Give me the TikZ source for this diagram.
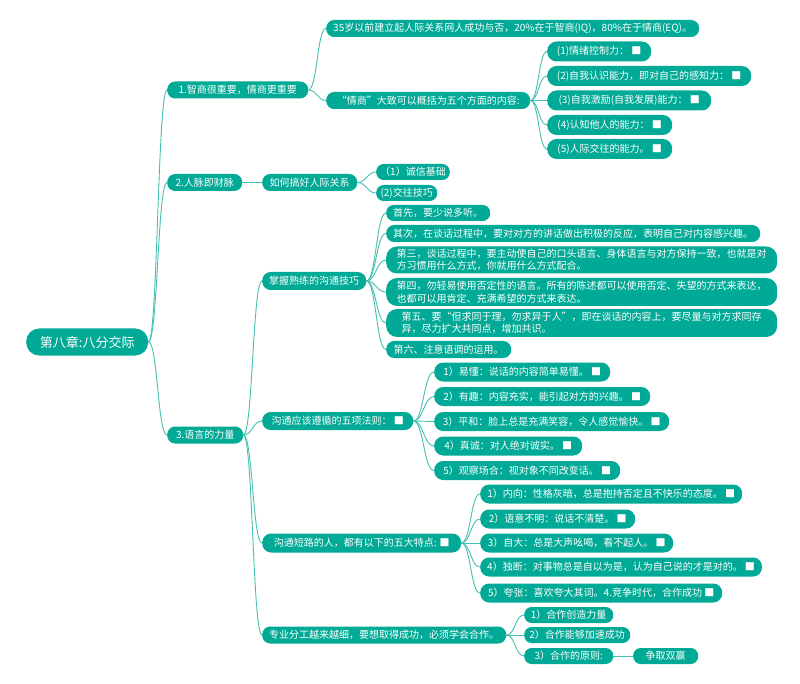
\documentclass[tikz,border=0pt]{standalone}
\usepackage{fontspec}
\setmainfont{Noto Sans CJK SC}
\usetikzlibrary{calc}
\definecolor{nodefill}{RGB}{0,170,150}
\definecolor{linec}{RGB}{70,192,176}
\tikzset{
  mbox/.style={fill=nodefill, text=white, inner xsep=7pt, inner ysep=0pt, anchor=west,
    font=\fontsize{10}{12.5}\selectfont, align=center},
  conn/.style={draw=linec, line width=0.9pt},
}
\newcommand\mlink[2]{\draw[conn] let \p1=(#1.east), \p2=(#2.west) in (\p1) .. controls ({(\x1+\x2)/2},\y1) and ({(\x1+\x2)/2},\y2) .. (\p2);}
\newcommand\slink[2]{\draw[conn] (#1.east) -- (#2.west);}
\begin{document}
\begin{tikzpicture}[x=1pt,y=-1pt]
\fill[white] (0,0) rectangle (800,684);
\useasboundingbox (0,0) rectangle (800,684);

% root
\node[mbox, minimum width=122pt, minimum height=27pt, rounded corners=13pt, font=\fontsize{13}{15}\selectfont] (root) at (26,342) {第八章:八分交际};

% level 1
\node[mbox, minimum width=141pt, minimum height=17pt, rounded corners=8pt] (L1a) at (167,90) {1.智商很重要，情商更重要};
\node[mbox, minimum width=75pt, minimum height=17pt, rounded corners=8pt] (L1b) at (167,182.5) {2.人脉即财脉};
\node[mbox, minimum width=76pt, minimum height=17pt, rounded corners=8pt] (L1c) at (167,435) {3.语言的力量};

% branch 1
\node[mbox, minimum width=371pt, minimum height=17pt, rounded corners=8pt] (A1) at (326,28.5) {35岁以前建立起人际关系网人成功与否，20\%在于智商(IQ)，80\%在于情商(EQ)。};
\node[mbox, minimum width=204pt, minimum height=17pt, rounded corners=8pt] (A2) at (326,100.5) {“情商”大致可以概括为五个方面的内容:};
\node[mbox, minimum width=104pt, minimum height=20pt, rounded corners=9.5pt] (A21) at (547,51.5) {(1)情绪控制力： ■};
\node[mbox, minimum width=204pt, minimum height=20pt, rounded corners=9.5pt] (A22) at (547,76) {(2)自我认识能力，即对自己的感知力： ■};
\node[mbox, minimum width=164pt, minimum height=20pt, rounded corners=9.5pt] (A23) at (547,100.5) {(3)自我激励(自我发展)能力： ■};
\node[mbox, minimum width=125pt, minimum height=20pt, rounded corners=9.5pt] (A24) at (547,125) {(4)认知他人的能力： ■};
\node[mbox, minimum width=125pt, minimum height=20pt, rounded corners=9.5pt] (A25) at (547,149) {(5)人际交往的能力。 ■};

% branch 2
\node[mbox, minimum width=95pt, minimum height=17pt, rounded corners=8pt] (B1) at (262,182.5) {如何搞好人际关系};
\node[mbox, minimum width=71pt, minimum height=16pt, rounded corners=7.5pt, inner xsep=4pt] (B11) at (376,172) {（1）诚信基础};
\node[mbox, minimum width=61pt, minimum height=16pt, rounded corners=7.5pt, inner xsep=4pt] (B12) at (376,193) {(2)交往技巧};

% branch 3
\node[mbox, minimum width=100pt, minimum height=18pt, rounded corners=8.5pt] (C1) at (262,281) {掌握熟练的沟通技巧};
\node[mbox, minimum width=104pt, minimum height=16pt, rounded corners=7.5pt] (C11) at (386,213) {首先，要少说多听。};
\node[mbox, minimum width=371pt, minimum height=17pt, rounded corners=8pt] (C12) at (386,233.5) {其次，在谈话过程中，要对对方的讲话做出积极的反应，表明自己对内容感兴趣。};
\node[mbox, minimum width=391pt, minimum height=27pt, rounded corners=11pt, align=left] (C13) at (386,260) {第三，谈话过程中，要主动使自己的口头语言、身体语言与对方保持一致，也就是对\\方习惯用什么方式，你就用什么方式配合。};
\node[mbox, minimum width=391pt, minimum height=28pt, rounded corners=11pt, align=left] (C14) at (386,292) {第四，勿轻易使用否定性的语言。所有的陈述都可以使用否定、失望的方式来表达，\\也都可以用肯定、充满希望的方式来表达。};
\node[mbox, minimum width=391pt, minimum height=28pt, rounded corners=11pt, align=left] (C15) at (386,323) {第五、要“但求同于理，勿求异于人”，即在谈话的内容上，要尽量与对方求同存\\异，尽力扩大共同点，增加共识。};
\node[mbox, minimum width=125pt, minimum height=17pt, rounded corners=8pt] (C16) at (386,349.5) {第六、注意语调的运用。};

\node[mbox, minimum width=151pt, minimum height=18pt, rounded corners=8.5pt] (C2) at (262,421) {沟通应该遵循的五项法则： ■};
\node[mbox, minimum width=176pt, minimum height=19pt, rounded corners=9pt] (C21) at (434,372) {1）易懂：说话的内容简单易懂。 ■};
\node[mbox, minimum width=216pt, minimum height=19pt, rounded corners=9pt] (C22) at (434,396.5) {2）有趣：内容充实，能引起对方的兴趣。 ■};
\node[mbox, minimum width=235pt, minimum height=19pt, rounded corners=9pt] (C23) at (434,421.5) {3）平和：脸上总是充满笑容，令人感觉愉快。 ■};
\node[mbox, minimum width=148pt, minimum height=19pt, rounded corners=9pt] (C24) at (434,446) {4）真诚：对人绝对诚实。 ■};
\node[mbox, minimum width=186pt, minimum height=19pt, rounded corners=9pt] (C25) at (434,470.5) {5）观察场合：视对象不同改变话。 ■};

\node[mbox, minimum width=199pt, minimum height=19pt, rounded corners=9pt] (C3) at (262,543) {沟通短路的人，都有以下的五大特点: ■};
\node[mbox, minimum width=262pt, minimum height=19pt, rounded corners=9pt] (C31) at (480,494) {1）内向：性格灰暗，总是抱持否定且不快乐的态度。 ■};
\node[mbox, minimum width=155pt, minimum height=19pt, rounded corners=9pt] (C32) at (480,519) {2）语意不明：说话不清楚。 ■};
\node[mbox, minimum width=193pt, minimum height=19pt, rounded corners=9pt] (C33) at (480,543) {3）自大：总是大声吆喝，看不起人。 ■};
\node[mbox, minimum width=281pt, minimum height=19pt, rounded corners=9pt] (C34) at (480,567) {4）独断：对事物总是自以为是，认为自己说的才是对的。 ■};
\node[mbox, minimum width=242pt, minimum height=19pt, rounded corners=9pt] (C35) at (480,593) {5）夸张：喜欢夸大其词。4.竞争时代，合作成功 ■};

\node[mbox, minimum width=243pt, minimum height=17pt, rounded corners=8pt] (C4) at (262,635) {专业分工越来越细，要想取得成功，必须学会合作。};
\node[mbox, minimum width=89pt, minimum height=16pt, rounded corners=7.5pt, inner xsep=4pt] (C41) at (524,615) {1）合作创造力量};
\node[mbox, minimum width=106pt, minimum height=16pt, rounded corners=7.5pt, inner xsep=4pt] (C42) at (524,635) {2）合作能够加速成功};
\node[mbox, minimum width=89pt, minimum height=16pt, rounded corners=7.5pt, inner xsep=4pt] (C43) at (524,656) {3）合作的原则:};
\node[mbox, minimum width=65pt, minimum height=16pt, rounded corners=7.5pt] (C431) at (633,656) {争取双赢};

% connectors
\mlink{root}{L1a}
\mlink{root}{L1b}
\mlink{root}{L1c}
\mlink{L1a}{A1}
\mlink{L1a}{A2}
\foreach \c in {A21,A22,A23,A24,A25} {\mlink{A2}{\c}}
\slink{L1b}{B1}
\mlink{B1}{B11}
\mlink{B1}{B12}
\foreach \c in {C1,C2,C3,C4} {\mlink{L1c}{\c}}
\foreach \c in {C11,C12,C13,C14,C15,C16} {\mlink{C1}{\c}}
\foreach \c in {C21,C22,C23,C24,C25} {\mlink{C2}{\c}}
\foreach \c in {C31,C32,C33,C34,C35} {\mlink{C3}{\c}}
\foreach \c in {C41,C42,C43} {\mlink{C4}{\c}}
\slink{C43}{C431}
\end{tikzpicture}
\end{document}
